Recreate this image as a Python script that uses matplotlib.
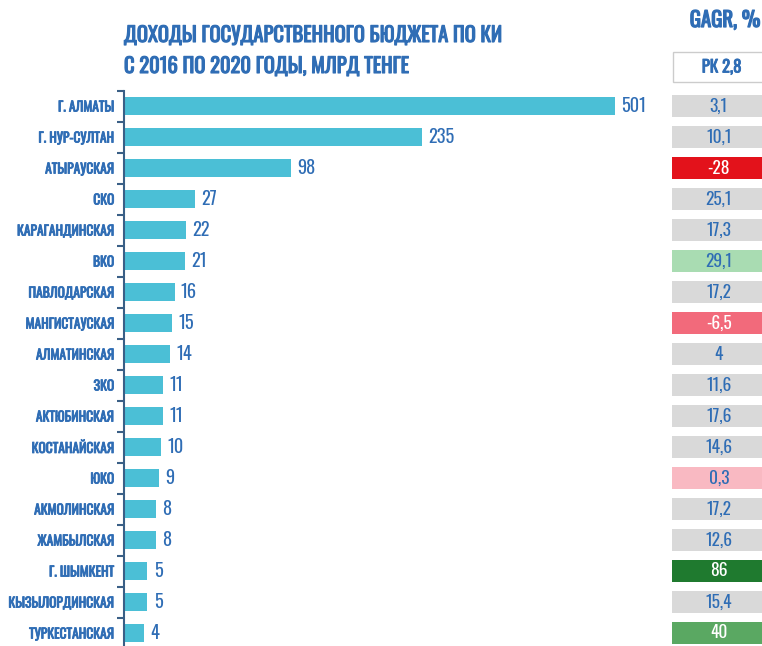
import matplotlib
matplotlib.use("Agg")
import matplotlib.pyplot as plt
from matplotlib.patches import Rectangle
import matplotlib.patheffects as pe
import numpy as np

regions = ["Г. АЛМАТЫ", "Г. НУР-СУЛТАН", "АТЫРАУСКАЯ", "СКО", "КАРАГАНДИНСКАЯ", "ВКО",
           "ПАВЛОДАРСКАЯ", "МАНГИСТАУСКАЯ", "АЛМАТИНСКАЯ", "ЗКО", "АКТЮБИНСКАЯ",
           "КОСТАНАЙСКАЯ", "ЮКО", "АКМОЛИНСКАЯ", "ЖАМБЫЛСКАЯ", "Г. ШЫМКЕНТ",
           "КЫЗЫЛОРДИНСКАЯ", "ТУРКЕСТАНСКАЯ"]
revenue = [501, 235, 98, 27, 22, 21, 16, 15, 14, 11, 11, 10, 9, 8, 8, 5, 5, 4]
cagr_labels = ["3,1", "10,1", "-28", "25,1", "17,3", "29,1", "17,2", "-6,5", "4", "11,6",
               "17,6", "14,6", "0,3", "17,2", "12,6", "86", "15,4", "40"]
cagr_colors = ["#d9d9d9", "#d9d9d9", "#e3121b", "#d9d9d9", "#d9d9d9", "#a9dcb2",
               "#d9d9d9", "#f26a7b", "#d9d9d9", "#d9d9d9", "#d9d9d9", "#d9d9d9",
               "#f9b9c2", "#d9d9d9", "#d9d9d9", "#1f7a2f", "#d9d9d9", "#5aa862"]
cagr_text = ["#2f6db5", "#2f6db5", "white", "#2f6db5", "#2f6db5", "#2f6db5",
             "#2f6db5", "white", "#2f6db5", "#2f6db5", "#2f6db5", "#2f6db5",
             "#2f6db5", "#2f6db5", "#2f6db5", "white", "#2f6db5", "white"]
title_lines = ["ДОХОДЫ ГОСУДАРСТВЕННОГО БЮДЖЕТА ПО КИ", "С 2016 ПО 2020 ГОДЫ, МЛРД ТЕНГЕ"]
header = "GAGR, %"
rk_label = "РК 2,8"

plt.rcParams['font.family'] = ["Oswald", "PT Sans Narrow", "DejaVu Sans"]

BLUE = "#2f6db5"
BAR = "#4bbfd6"
W, H = 762, 646
fig = plt.figure(figsize=(W / 100, H / 100), dpi=100)

def bold(color, lw=0.7):
    return [pe.withStroke(linewidth=lw, foreground=color)]

def px_axes(x0, y0, x1, y1):
    return fig.add_axes([x0 / W, 1 - y1 / H, (x1 - x0) / W, (y1 - y0) / H])

row0, step = 106, 31
def px_to_i(py):
    return (py - row0) / step

P = 0.66
def fwd(x):
    x = np.asarray(x, dtype=float)
    return np.sign(x) * np.abs(x) ** P
def inv(x):
    x = np.asarray(x, dtype=float)
    return np.sign(x) * np.abs(x) ** (1 / P)

# main bar axes
ax = px_axes(124, 90.5, 660, 646)
n = len(regions)
ypos = list(range(n))
ax.set_xscale("function", functions=(fwd, inv))
ax.barh(ypos, revenue, height=0.58, color=BAR)
ax.set_ylim(px_to_i(646), px_to_i(90.5))
vmax = max(revenue)
ax.set_xlim(0, float(inv(fwd(vmax) * 536 / 491)))
for y, v in zip(ypos, revenue):
    ax.annotate(str(v), (v, y), xytext=(4.5, 0), textcoords="offset points",
                va="center", ha="left", color=BLUE, fontsize=13.2)
ax.set_yticks(ypos)
ax.set_yticklabels(regions, color=BLUE, fontsize=9.7)
for t in ax.get_yticklabels():
    t.set_path_effects(bold(BLUE, 0.6))
ax.tick_params(axis="y", length=0, pad=7)
ax.set_yticks([i - 0.5 for i in ypos], minor=True)
ax.tick_params(axis="y", which="minor", length=5, width=1.5, color="#3a5f86")
ax.set_xticks([])
ax.set_xticks([], minor=True)
for s in ["top", "right", "bottom"]:
    ax.spines[s].set_visible(False)
ax.spines["left"].set_color("#3a5f86")
ax.spines["left"].set_linewidth(1.5)

# table axes
tax = px_axes(672, 40, 762, 646)
tax.set_xlim(0, 1)
tax.set_ylim(px_to_i(646), px_to_i(40))
tax.axis("off")
bh = 22 / step
for y, lab, c, tc in zip(ypos, cagr_labels, cagr_colors, cagr_text):
    tax.add_patch(Rectangle((0, y - bh / 2), 1.2, bh, facecolor=c, edgecolor="none", clip_on=False))
    tax.text(0.52, y, lab, ha="center", va="center", color=tc, fontsize=12.5)
hy = px_to_i(67)
hh = 30 / step
tax.add_patch(Rectangle((0.01, hy - hh / 2), 1.2, hh, facecolor="white", edgecolor="#cccccc",
                        linewidth=1, clip_on=False))
tax.text(0.55, hy, rk_label, ha="center", va="center", color=BLUE, fontsize=12,
         path_effects=bold(BLUE, 0.6))

fig.text(725 / W, 1 - 20 / H, header, ha="center", va="center", color=BLUE,
         fontsize=15, path_effects=bold(BLUE, 0.9))
fig.text(124 / W, 1 - 35 / H, title_lines[0], ha="left", va="center", color=BLUE,
         fontsize=14.8, path_effects=bold(BLUE, 0.8))
fig.text(124 / W, 1 - 66 / H, title_lines[1], ha="left", va="center", color=BLUE,
         fontsize=14.8, path_effects=bold(BLUE, 0.8))

fig.savefig("out.png", dpi=100, facecolor="white")
